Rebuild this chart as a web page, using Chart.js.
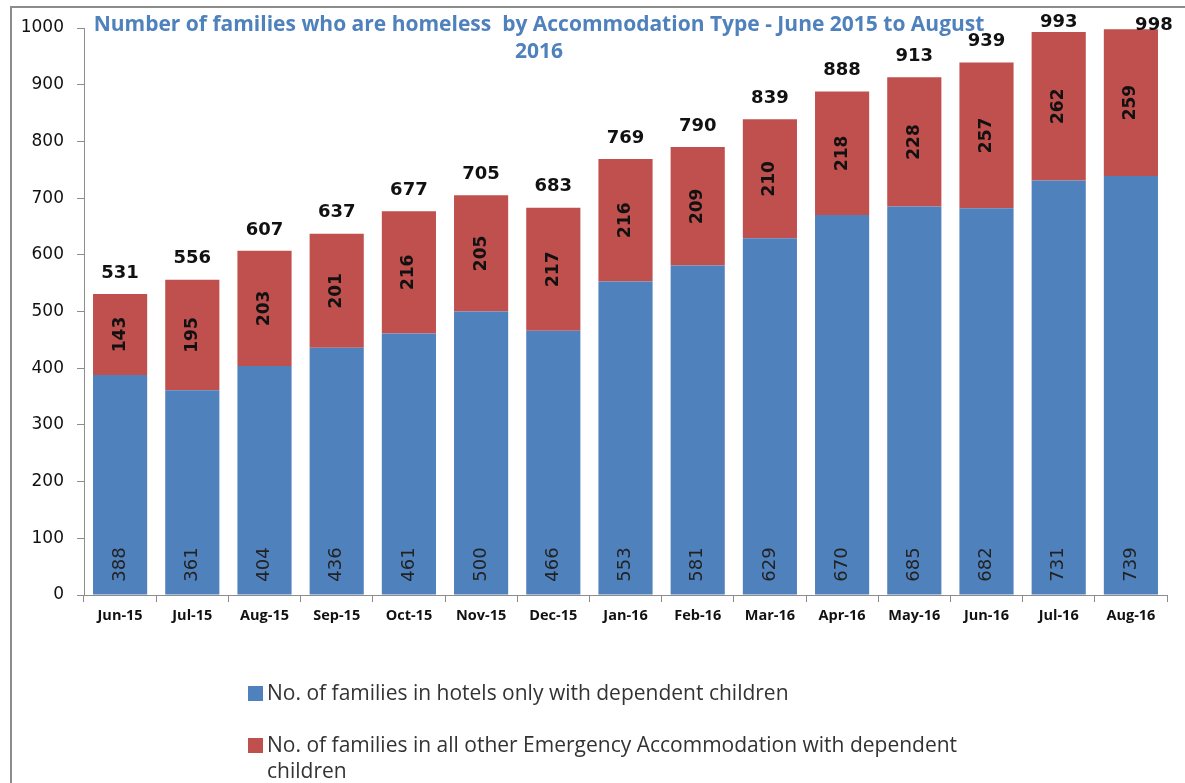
<!DOCTYPE html>
<html>
<head>
<meta charset="utf-8">
<script src="https://cdn.jsdelivr.net/npm/chart.js@4/dist/chart.umd.min.js"></script>
<style>
  html, body { margin: 0; padding: 0; background: #fff; }
  #wrap { position: relative; width: 1185px; height: 783px; overflow: hidden; }
  #legend { position: absolute; left: 248px; top: 679px; font-family: "Open Sans", sans-serif; font-size: 21px; color: #333; }
  #legend .item { display: flex; align-items: flex-start; margin-bottom: 26px; }
  #legend .box { width: 15px; height: 15px; margin-top: 7px; margin-right: 4px; flex: none; }
  #legend .txt { width: 720px; line-height: 26px; }
</style>
</head>
<body>
<div id="wrap">
  <canvas id="chart" width="1185" height="783"></canvas>
  <div id="legend"></div>
</div>
<script>
const months = ["Jun-15", "Jul-15", "Aug-15", "Sep-15", "Oct-15", "Nov-15", "Dec-15",
  "Jan-16", "Feb-16", "Mar-16", "Apr-16", "May-16", "Jun-16", "Jul-16", "Aug-16"];
const hotels = [388, 361, 404, 436, 461, 500, 466, 553, 581, 629, 670, 685, 682, 731, 739];
const otherEA = [143, 195, 203, 201, 216, 205, 217, 216, 209, 210, 218, 228, 257, 262, 259];
const totals = [531, 556, 607, 637, 677, 705, 683, 769, 790, 839, 888, 913, 939, 993, 998];
const yTicks = [0, 100, 200, 300, 400, 500, 600, 700, 800, 900, 1000];

const titleLines = ["Number of families who are homeless  by Accommodation Type - June 2015 to August", "2016"];

// frame + title drawn over the plot like the original
const decor = {
  id: "decor",
  beforeDraw(chart) {
    const ctx = chart.ctx;
    ctx.save();
    ctx.strokeStyle = "#8c8c8c";
    ctx.lineWidth = 2;
    ctx.beginPath();
    ctx.moveTo(11, 783);
    ctx.lineTo(11, 7);
    ctx.lineTo(1185, 7);
    ctx.stroke();
    ctx.restore();
  },
  afterDraw(chart) {
    const ctx = chart.ctx;
    ctx.save();
    ctx.fillStyle = "#4f81bd";
    ctx.font = "bold 21px 'Open Sans'";
    ctx.textAlign = "center";
    ctx.textBaseline = "middle";
    ctx.fillText(titleLines[0], 539, 25);
    ctx.fillText(titleLines[1], 539, 52);
    ctx.restore();
  }
};

const barLabels = {
  id: "barLabels",
  afterDatasetsDraw(chart) {
    const ctx = chart.ctx;
    const blue = chart.getDatasetMeta(0).data;
    const red = chart.getDatasetMeta(1).data;
    ctx.save();
    ctx.textAlign = "center";
    ctx.textBaseline = "middle";
    blue.forEach(function (bar, i) {
      ctx.save();
      ctx.translate(bar.x, bar.base - 30);
      ctx.rotate(-Math.PI / 2);
      ctx.font = "18px 'DejaVu Sans'";
      ctx.fillStyle = "#222";
      ctx.fillText(hotels[i], 0, 0);
      ctx.restore();
    });
    red.forEach(function (bar, i) {
      ctx.save();
      ctx.translate(bar.x, (bar.y + bar.base) / 2);
      ctx.rotate(-Math.PI / 2);
      ctx.font = "bold 17px 'DejaVu Sans'";
      ctx.fillStyle = "#111";
      ctx.fillText(otherEA[i], 0, 0);
      ctx.restore();
      ctx.font = "bold 18px 'DejaVu Sans'";
      ctx.fillStyle = "#111";
      let ty = bar.y - 21;
      let tx = bar.x;
      if (ty < 10) { ty = 25; tx = bar.x + 23; }
      else if (ty < 22) { ty = 22; }
      ctx.fillText(totals[i], tx, ty);
    });
    ctx.restore();
  }
};

const ctx = document.getElementById("chart").getContext("2d");
const chart = new Chart(ctx, {
  type: "bar",
  data: {
    labels: months,
    datasets: [
      {
        label: "No. of families in hotels only with dependent children",
        data: hotels,
        backgroundColor: "#4f81bd",
        barPercentage: 0.75,
        categoryPercentage: 1
      },
      {
        label: "No. of families in all other Emergency Accommodation with dependent children",
        data: otherEA,
        backgroundColor: "#c0504d",
        barPercentage: 0.75,
        categoryPercentage: 1
      }
    ]
  },
  options: {
    responsive: false,
    animation: false,
    layout: { padding: { left: 0, top: 28, right: 18, bottom: 0 } },
    plugins: {
      legend: { display: false },
      tooltip: { enabled: false }
    },
    scales: {
      x: {
        stacked: true,
        grid: { offset: true, drawOnChartArea: false, tickLength: 7, color: "#8c8c8c" },
        border: { color: "#8c8c8c", width: 1 },
        ticks: { color: "#111", font: { family: "Open Sans", size: 14.5, weight: "bold" }, padding: 5, maxRotation: 0 },
        afterFit(scale) { scale.height = 188; }
      },
      y: {
        stacked: true,
        min: 0,
        max: 1000,
        afterBuildTicks(scale) { scale.ticks = yTicks.map(function (v) { return { value: v }; }); },
        grid: { drawOnChartArea: false, tickLength: 7, color: "#8c8c8c" },
        border: { color: "#8c8c8c", width: 1 },
        ticks: {
          color: "#111",
          font: { family: "DejaVu Sans", size: 17 },
          padding: 13,
          callback: function (v) { return String(v); }
        },
        afterFit(scale) { scale.width = 84; }
      }
    }
  },
  plugins: [decor, barLabels]
});

// html legend so the long label can wrap like the original
const legendEl = document.getElementById("legend");
chart.data.datasets.forEach(function (ds) {
  const item = document.createElement("div");
  item.className = "item";
  const box = document.createElement("span");
  box.className = "box";
  box.style.background = ds.backgroundColor;
  const txt = document.createElement("span");
  txt.className = "txt";
  txt.textContent = ds.label;
  item.appendChild(box);
  item.appendChild(txt);
  legendEl.appendChild(item);
});
</script>
</body>
</html>
